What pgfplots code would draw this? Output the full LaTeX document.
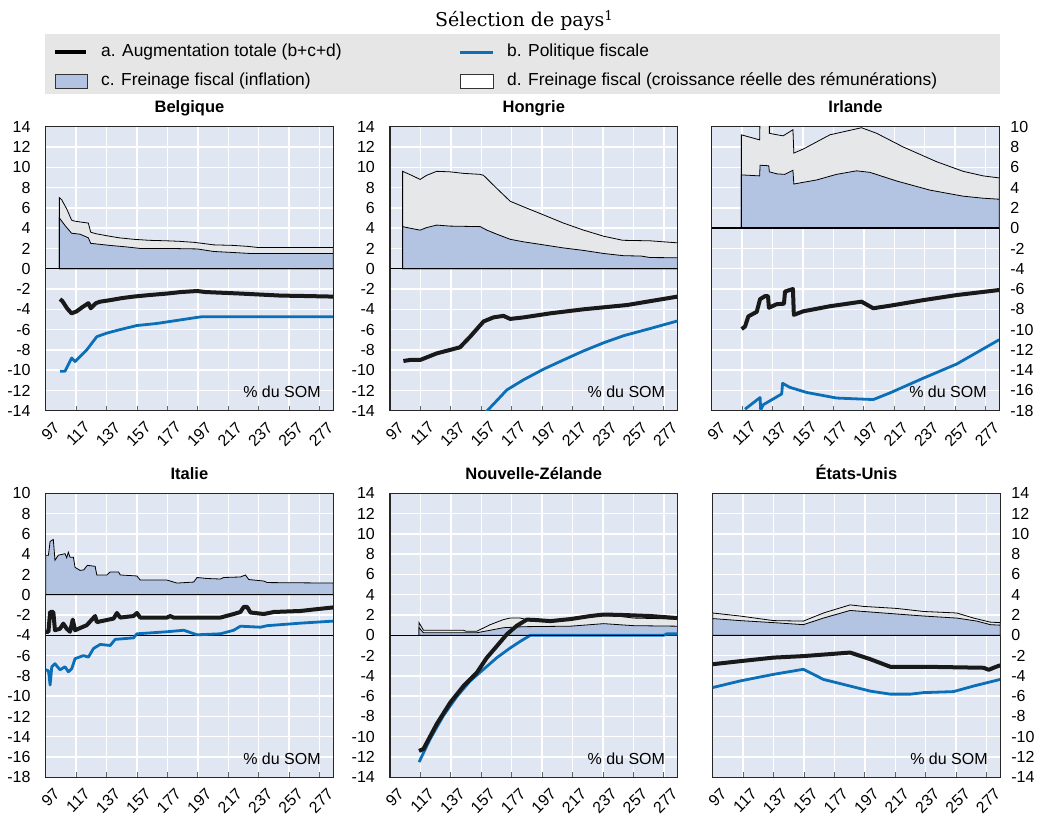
\documentclass[border=0pt]{standalone}
\usepackage{fontspec}
\setmainfont{Liberation Sans}
\newfontfamily\serifttl{DejaVu Serif}
\usepackage{pgfplots}
\pgfplotsset{compat=1.18}

\definecolor{bgc}{HTML}{E0E6F2}
\definecolor{cfill}{HTML}{B3C4E3}
\definecolor{dfill}{HTML}{E6E7E9}
\definecolor{legbg}{HTML}{E6E6E6}
\definecolor{oblue}{HTML}{0B6FB8}
\definecolor{frame}{HTML}{262626}

\newcommand\tk{\fontsize{16}{17}\selectfont}

\pgfplotsset{
  panel/.style={
    scale only axis, width=287.5pt, height=284pt, anchor=north west,
    xmin=97, xmax=286, xtick={97,117,...,277},
    axis background/.style={fill=bgc},
    xmajorgrids, ymajorgrids,
    major grid style={white, line width=1.4pt},
    axis line style={frame, line width=1.3pt},
    tick align=inside, xtick pos=bottom, major tick length=5pt,
    xtick style={black!60, line width=0.8pt}, ytick style={draw=none},
    tick label style={font=\tk, inner sep=0pt},
    /pgf/number format/assume math mode=true,
    xticklabel style={rotate=45, anchor=north east, xshift=-2pt, yshift=-12pt},
    title style={font=\fontsize{16.5}{18}\selectfont\bfseries, anchor=base, at={(0.5,1)}, yshift=8pt},
  },
  leftlab/.style={yticklabel pos=left, yticklabel style={anchor=east, xshift=-15pt}},
  rightlab/.style={yticklabel pos=right, yticklabel style={anchor=west, xshift=11pt}},
  dA/.style={fill=dfill, draw=black, line width=0.8pt},
  cA/.style={fill=cfill, draw=black, line width=0.8pt},
  aL/.style={black!90, line width=4pt, line join=round},
  bL/.style={oblue, line width=2.8pt, line join=round},
  zL/.style={black, line width=1.3pt},
}
\newcommand\pctL{\node[font=\tk, anchor=base east, xshift=-15pt, yshift=17pt] at (rel axis cs:0,1) {\%};}
\newcommand\pctR{\node[font=\tk, anchor=base west, xshift=11pt, yshift=17pt] at (rel axis cs:1,1) {\%};}
\newcommand\som{\node[font=\tk, anchor=east, xshift=-9pt, yshift=19pt] at (rel axis cs:1,0) {\% du SOM};}

\begin{document}
\begin{tikzpicture}[x=1pt,y=1pt]
\path[use as bounding box] (0,0) rectangle (1040,-814);

% titre et légende
\node[anchor=base west, inner sep=0pt] at (435,-26.7) {\serifttl\fontsize{19}{20}\selectfont Sélection de pays\textsuperscript{1}};
\fill[legbg] (45,-34) rectangle (1000,-94);
\draw[black, line width=4pt] (55,-52) -- (86,-52);
\draw[oblue, line width=3pt] (460,-52) -- (493,-52);
\draw[fill=cfill, draw=black!80, line width=0.8pt] (55,-74) rectangle (87,-88);
\draw[fill=white, draw=black!80, line width=0.8pt] (460,-74) rectangle (493,-88);
\begin{scope}[every node/.style={anchor=west, inner sep=0pt, font=\fontsize{17.4}{19}\selectfont}]
\node at (101,-52) {a. Augmentation totale (b+c+d)};
\node at (507,-52) {b. Politique fiscale};
\node at (101,-81) {c. Freinage fiscal (inflation)};
\node at (507,-81) {d. Freinage fiscal (croissance réelle des rémunérations)};
\end{scope}

% Belgique
\begin{axis}[panel, leftlab, at={(45.7pt,-126.7pt)}, title={Belgique},
  ymin=-14, ymax=14, ytick={-14,-12,...,14}]
\addplot[dA] coordinates {(106,0) (106,7.0) (107.5,6.8) (110.8,5.9) (114,4.8) (115.7,4.7) (120,4.6) (125,4.5) (126.6,3.6) (130,3.45) (137.2,3.25) (145,3.05) (154.7,2.9) (165,2.8) (176.7,2.75) (185,2.7) (194.3,2.6) (200,2.5) (207.4,2.35) (220,2.3) (230,2.2) (236,2.1) (286,2.1) (286,0)} \closedcycle;
\addplot[cA] coordinates {(106,0) (106,5.0) (108,4.6) (110,4.2) (114,3.5) (119.6,3.4) (125,3.05) (126.6,2.5) (139,2.3) (150,2.15) (159,2.0) (176.7,2.0) (196.5,1.95) (207.4,1.7) (220,1.6) (231.6,1.5) (286,1.5) (286,0)} \closedcycle;
\addplot[zL] coordinates {(97,0) (286,0)};
\addplot[bL] coordinates {(106.4,-10.1) (109.7,-10.1) (114.1,-8.8) (116.3,-9.15) (124,-8.0) (130.6,-6.7) (137.2,-6.35) (146,-6.0) (157,-5.6) (170,-5.4) (181,-5.15) (196.5,-4.8) (200,-4.73) (286,-4.73)};
\addplot[aL] coordinates {(106.4,-3.0) (108,-3.2) (111,-3.9) (114,-4.4) (117.4,-4.2) (121,-3.8) (125.1,-3.4) (126.6,-3.9) (130,-3.4) (132.8,-3.25) (139.4,-3.1) (147,-2.9) (154.7,-2.75) (165,-2.6) (176.7,-2.45) (186,-2.3) (196.5,-2.2) (202,-2.3) (209.6,-2.35) (225,-2.45) (238.2,-2.55) (251.3,-2.65) (270,-2.7) (286,-2.75)};
\pctL \som
\end{axis}

% Hongrie
\begin{axis}[panel, leftlab, at={(390pt,-126.7pt)}, title={Hongrie},
  ymin=-14, ymax=14, ytick={-14,-12,...,14}]
\addplot[dA] coordinates {(105.3,0) (105.3,9.6) (111.3,9.2) (116.8,8.8) (121,9.2) (127.7,9.6) (136.5,9.55) (145.3,9.4) (156.3,9.3) (158.5,9.2) (167.3,7.9) (176,6.65) (184.8,6.1) (198,5.3) (211,4.5) (224.3,3.8) (237.5,3.2) (250,2.8) (268,2.75) (286,2.55) (286,0)} \closedcycle;
\addplot[cA] coordinates {(105.3,0) (105.3,4.15) (110,4.0) (116.8,3.8) (121,4.05) (127.7,4.3) (136.5,4.2) (156.3,4.15) (160.7,3.8) (167.3,3.4) (176,2.9) (184.8,2.65) (198,2.35) (211,2.05) (224.3,1.8) (237.5,1.5) (250.7,1.28) (262,1.25) (268,1.1) (286,1.08) (286,0)} \closedcycle;
\addplot[zL] coordinates {(97,0) (286,0)};
\addplot[bL] coordinates {(159,-14.3) (166,-13.2) (173.8,-11.95) (184.8,-10.95) (198,-9.9) (211,-9.0) (224.3,-8.1) (237.5,-7.3) (250.7,-6.6) (268,-5.9) (286,-5.15)};
\addplot[aL] coordinates {(105.8,-9.1) (110,-9.0) (116.8,-9.0) (127.7,-8.35) (143,-7.75) (149.7,-6.7) (158.5,-5.2) (165,-4.8) (171.6,-4.65) (176,-4.95) (184.8,-4.8) (202.4,-4.4) (224.3,-4.0) (252.9,-3.58) (268,-3.2) (286,-2.75)};
\pctL \som
\end{axis}

% Irlande
\begin{axis}[panel, rightlab, at={(711.7pt,-126.7pt)}, title={Irlande},
  ymin=-18, ymax=10, ytick={-18,-16,...,10}]
\addplot[dA] coordinates {(116.5,0) (116.5,9.2) (128.5,8.7) (128.8,11) (134.9,11) (134.9,9.35) (140,9.2) (144,9.1) (150.4,9.7) (151,7.4) (157.2,7.8) (174.7,9.2) (195.5,9.9) (205.4,9.35) (222.9,8.0) (244.8,6.55) (262.3,5.6) (275.5,5.15) (286,4.95) (286,0)} \closedcycle;
\addplot[cA] coordinates {(116.5,0) (116.5,5.25) (128.5,5.15) (128.8,6.2) (134.5,6.15) (134.9,5.55) (140,5.35) (145,5.3) (150.4,5.7) (151,4.35) (166,4.75) (179,5.3) (192.2,5.65) (201,5.5) (218.5,4.65) (240.4,3.75) (262.3,3.15) (275.5,2.95) (286,2.85) (286,0)} \closedcycle;
\addplot[zL] coordinates {(97,0) (286,0)};
\addplot[bL] coordinates {(118.9,-17.85) (128.8,-16.7) (129.2,-17.9) (131,-17.4) (143,-16.35) (143.6,-15.3) (148.4,-15.7) (159.4,-16.2) (179,-16.75) (203.2,-16.9) (214.1,-16.25) (236,-14.8) (258,-13.4) (286,-11.0)};
\addplot[aL] coordinates {(116.7,-9.95) (118.9,-9.7) (121.1,-8.7) (126.6,-8.25) (128.8,-7.0) (132.1,-6.7) (134,-6.7) (134.6,-7.85) (139.7,-7.5) (144.5,-7.45) (145.2,-6.25) (150.4,-6.0) (151,-8.55) (157.2,-8.2) (174.7,-7.7) (195.5,-7.25) (203.2,-7.9) (214.1,-7.65) (236,-7.1) (258,-6.6) (286,-6.1)};
\pctR \som
\end{axis}

% Italie
\begin{axis}[panel, leftlab, at={(45.7pt,-493.3pt)}, title={Italie},
  ymin=-18, ymax=10, ytick={-18,-16,...,10}]
\addplot[cA] coordinates {(97,0) (97,3.9) (98.8,3.9) (99.9,5.25) (102,5.45) (103.1,3.4) (105.3,3.9) (109.7,4.05) (110.8,3.65) (111.9,4.2) (113,3.7) (115.2,3.7) (116.3,2.7) (119.6,2.4) (122,2.45) (124.4,2.9) (129.5,2.8) (130.6,1.95) (137.2,1.95) (139.4,2.25) (144.9,2.25) (146,1.95) (157,1.85) (159.1,1.45) (176.7,1.45) (183.3,1.15) (194.3,1.25) (196.5,1.7) (203.1,1.6) (211.9,1.55) (214,1.7) (225,1.75) (228.3,1.95) (230.5,1.5) (240.4,1.35) (242.6,1.2) (286,1.15) (286,0)} \closedcycle;
\addplot[zL] coordinates {(97,0) (286,0)};
\addplot[zL] coordinates {(97,-4) (286,-4)};
\addplot[bL] coordinates {(97,-7.4) (98.8,-7.5) (99.9,-8.9) (101,-7.1) (103.1,-6.8) (106.4,-7.4) (109.7,-7.1) (111.9,-7.6) (114.1,-7.3) (116.3,-6.3) (121.8,-6.0) (125.1,-6.15) (128.4,-5.3) (132.8,-4.9) (139.4,-5.0) (142.7,-4.4) (154.7,-4.25) (157,-3.85) (176.7,-3.65) (187.7,-3.5) (196.5,-3.95) (211.9,-3.85) (220.6,-3.5) (225,-3.1) (238.2,-3.2) (242.6,-3.05) (264.6,-2.8) (286,-2.6)};
\addplot[aL] coordinates {(97,-3.65) (98.8,-3.65) (99.9,-1.7) (102,-1.7) (103.1,-3.5) (106.4,-3.35) (108.6,-2.85) (110.8,-3.35) (113,-3.65) (114.8,-2.45) (116.3,-3.5) (124,-3.0) (129.5,-2.1) (130.6,-2.7) (141.6,-2.35) (143.8,-1.8) (146,-2.25) (154.7,-2.1) (157,-1.8) (159.1,-2.25) (176.7,-2.25) (178.9,-2.1) (181,-2.25) (211.9,-2.25) (220.6,-1.9) (225,-1.7) (227.2,-1.2) (229.4,-1.2) (231.6,-1.75) (240.4,-1.9) (247,-1.7) (264.6,-1.6) (273.4,-1.45) (286,-1.25)};
\pctL \som
\end{axis}

% Nouvelle-Zélande
\begin{axis}[panel, leftlab, at={(390pt,-493.3pt)}, title={Nouvelle-Zélande},
  ymin=-14, ymax=14, ytick={-14,-12,...,14}]
\addplot[dA] coordinates {(116.1,0) (116.1,1.25) (119,0.5) (145.3,0.5) (147,0.4) (154,0.4) (162.9,1.05) (171.6,1.55) (176,1.7) (182.6,1.7) (187,1.55) (198,1.45) (211,1.55) (224.3,1.7) (233,1.95) (246.3,1.9) (257.2,1.7) (286,1.6) (286,0)} \closedcycle;
\addplot[cA] coordinates {(116.1,0) (116.1,0.75) (119,0.25) (154,0.25) (162.9,0.5) (171.6,0.75) (184.8,0.85) (215.6,0.9) (237.5,1.15) (257.2,0.95) (286,0.9) (286,0)} \closedcycle;
\addplot[bL] coordinates {(116.1,-12.5) (123.3,-10.25) (132,-7.95) (140.9,-6.05) (149.7,-4.5) (158.5,-3.35) (167.3,-2.2) (176,-1.25) (182.6,-0.6) (189.2,0) (277,0) (279,0.15) (286,0.15)};
\addplot[zL] coordinates {(97,0) (277,0)};
\addplot[aL] coordinates {(116.1,-11.4) (119,-11.2) (127.7,-8.75) (136.5,-6.65) (145.3,-5.0) (154,-3.7) (160.7,-2.2) (167.3,-1.05) (173.8,0.1) (180.4,0.95) (187,1.55) (193.6,1.5) (202.4,1.4) (215.6,1.6) (228.7,1.9) (237.5,2.05) (250.7,2.0) (268.3,1.9) (286,1.7)};
\pctL \som
\end{axis}

% États-Unis
\begin{axis}[panel, rightlab, at={(712.7pt,-493.3pt)}, title={États-Unis},
  ymin=-14, ymax=14, ytick={-14,-12,...,14}]
\addplot[dA] coordinates {(97,0) (97,2.2) (115,1.9) (136.9,1.45) (156.6,1.4) (169.8,2.2) (187.3,3.0) (196.1,2.85) (218,2.65) (235.6,2.35) (257.5,2.2) (268.5,1.7) (279.5,1.3) (286,1.25) (286,0)} \closedcycle;
\addplot[cA] coordinates {(97,0) (97,1.65) (115,1.45) (136.9,1.25) (156.6,1.05) (169.8,1.7) (187.3,2.45) (200.5,2.3) (218,2.1) (235.6,1.9) (257.5,1.7) (270.7,1.4) (279.5,1.05) (286,1.0) (286,0)} \closedcycle;
\addplot[zL] coordinates {(97,0) (286,0)};
\addplot[bL] coordinates {(97,-5.15) (115,-4.5) (136.9,-3.85) (156.6,-3.35) (169.8,-4.35) (187.3,-5.0) (200.5,-5.5) (213.7,-5.8) (226.9,-5.8) (235.6,-5.65) (255.3,-5.55) (268.5,-5.0) (286,-4.35)};
\addplot[aL] coordinates {(97,-2.85) (115,-2.55) (136.9,-2.2) (156.6,-2.05) (169.8,-1.9) (187.3,-1.7) (200.5,-2.35) (213.7,-3.1) (235.6,-3.1) (275.1,-3.2) (278.4,-3.4) (281.7,-3.2) (286,-2.95)};
\pctR \som
\end{axis}
\end{tikzpicture}
\end{document}
